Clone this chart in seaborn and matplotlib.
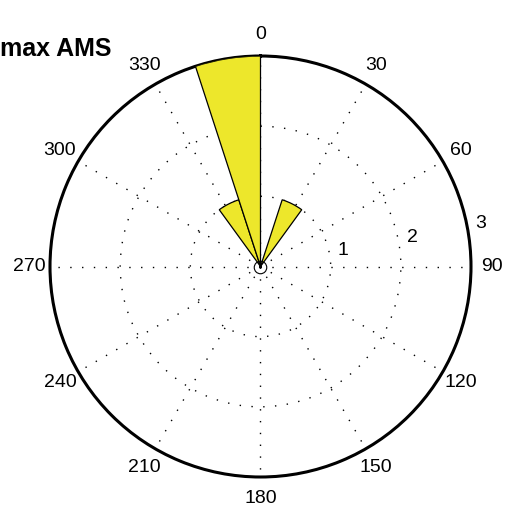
import numpy as np
import matplotlib.pyplot as plt
import seaborn as sns

# rose histogram: 20 bins of 18 degrees, only non-empty bins listed
bin_centers = [27, 333, 351]     # degrees, clockwise from north
counts = [1, 1, 3]
bin_width = 18
angle_ticks = list(range(0, 360, 30))
angle_labels = [str(a) for a in angle_ticks]
r_ticks = [1, 2, 3]
r_max = 3
title = 'max AMS'

sns.set_style('white')
plt.rcParams['font.family'] = ['Liberation Sans', 'DejaVu Sans']
plt.rcParams['text.color'] = 'black'

fig = plt.figure(figsize=(5.10, 5.09), dpi=100)
ax = fig.add_axes([50 / 510, 32 / 509, 421 / 510, 421 / 509], projection='polar')
ax.set_theta_zero_location('N')
ax.set_theta_direction(-1)
ax.set_ylim(0, r_max)

# dotted grid like matlab
dots = (0, (1, 7.5))
ax.set_thetagrids(angle_ticks, labels=[''] * len(angle_ticks))
ax.set_rgrids([1, 2], labels=['', ''])
ax.grid(True, color='black', linestyle=dots, linewidth=1.0)
ax.spines['polar'].set_linewidth(2.2)
ax.spines['polar'].set_color('black')
ax.set_facecolor('white')

ax.bar(np.deg2rad(bin_centers), counts, width=np.deg2rad(bin_width),
       color='#EDE72B', edgecolor='black', linewidth=0.9, zorder=3)

# small open circle at the origin
ax.plot([0], [0], marker='o', markersize=9, markerfacecolor='none',
        markeredgecolor='black', markeredgewidth=0.8, zorder=4, clip_on=False)

for a, lab in zip(angle_ticks, angle_labels):
    ax.text(np.deg2rad(a), 3.3, lab, ha='center', va='center', fontsize=14,
            color='black')

for r in r_ticks:
    ax.text(np.deg2rad(79), r + 0.2, str(r), ha='center', va='center',
            fontsize=14, color='black')

fig.text(112 / 510, 1 - 56 / 509, title, ha='right', va='baseline',
         fontsize=18, fontweight='bold', color='black')

plt.savefig('out.png', dpi=100)
